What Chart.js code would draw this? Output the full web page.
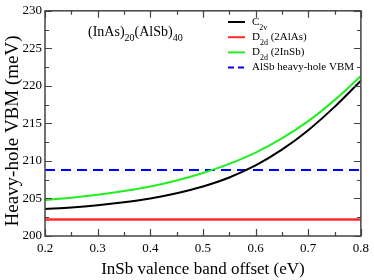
<!DOCTYPE html>
<html>
<head>
<meta charset="utf-8">
<script src="https://cdn.jsdelivr.net/npm/chart.js@4/dist/chart.umd.min.js"></script>
<style>
  html, body { margin: 0; padding: 0; background: #fff; }
  #wrap { width: 374px; height: 280px; }
</style>
</head>
<body>
<div id="wrap"><canvas id="c" width="374" height="280"></canvas></div>
<script>
// band offsets (eV)
const offsets = [0.2, 0.25, 0.3, 0.35, 0.4, 0.45, 0.5, 0.55, 0.6, 0.65, 0.7, 0.75, 0.8];
// heavy-hole VBM (meV)
const c2v      = [203.6, 203.8, 204.1, 204.5, 205.0, 205.7, 206.6, 207.8, 209.4, 211.5, 214.1, 217.2, 220.7];
const d2dAlAs  = [202.2, 202.2, 202.2, 202.2, 202.2, 202.2, 202.2, 202.2, 202.2, 202.2, 202.2, 202.2, 202.2];
const d2dInSb  = [204.8, 205.1, 205.5, 206.0, 206.6, 207.4, 208.4, 209.6, 211.1, 213.0, 215.3, 218.1, 221.3];
const alsbVbm  = [208.8, 208.8, 208.8, 208.8, 208.8, 208.8, 208.8, 208.8, 208.8, 208.8, 208.8, 208.8, 208.8];

const legendItems = [
  { base: 'C', sub: '2v', rest: '', color: '#000000', dash: [] },
  { base: 'D', sub: '2d', rest: ' (2AlAs)', color: '#ff2a2a', dash: [] },
  { base: 'D', sub: '2d', rest: ' (2InSb)', color: '#22ee22', dash: [] },
  { base: 'AlSb heavy-hole VBM', sub: '', rest: '', color: '#0000ff', dash: [6, 4] }
];

const serif = '"Liberation Serif", "DejaVu Serif", serif';
const pts = arr => offsets.map((x, i) => ({ x: x, y: arr[i] }));

// draw a string with an optional subscript part
function subText(ctx, x, y, base, sub, rest, size) {
  ctx.font = size + 'px ' + serif;
  ctx.fillText(base, x, y);
  x += ctx.measureText(base).width;
  if (sub) {
    ctx.font = Math.round(size * 0.7) + 'px ' + serif;
    ctx.fillText(sub, x, y + size * 0.5);
    x += ctx.measureText(sub).width;
  }
  if (rest) {
    ctx.font = size + 'px ' + serif;
    ctx.fillText(rest, x, y);
  }
}

// inward ticks on all four sides, plus legend and labels
const framePlugin = {
  id: 'frame',
  afterDraw(chart) {
    const ctx = chart.ctx;
    const a = chart.chartArea;
    const xs = chart.scales.x, ys = chart.scales.y;
    ctx.save();
    ctx.strokeStyle = '#444';
    ctx.lineWidth = 1.2;
    ctx.beginPath();
    for (let v = 0.2; v <= 0.8001; v += 0.05) {
      const px = Math.round(xs.getPixelForValue(v)) + 0.5;
      const major = Math.abs(v * 10 - Math.round(v * 10)) < 1e-6;
      const len = major ? 7 : 4;
      ctx.moveTo(px, a.bottom); ctx.lineTo(px, a.bottom - len);
      ctx.moveTo(px, a.top); ctx.lineTo(px, a.top + len);
    }
    for (let v = 200; v <= 230.001; v += 2.5) {
      const py = Math.round(ys.getPixelForValue(v)) + 0.5;
      const major = v % 5 === 0;
      const len = major ? 7 : 4;
      ctx.moveTo(a.left, py); ctx.lineTo(a.left + len, py);
      ctx.moveTo(a.right, py); ctx.lineTo(a.right - len, py);
    }
    ctx.stroke();

    ctx.lineWidth = 1.5;
    ctx.strokeRect(a.left, a.top, a.right - a.left, a.bottom - a.top);

    // legend
    ctx.fillStyle = '#000';
    ctx.textBaseline = 'middle';
    legendItems.forEach((it, i) => {
      const y = 22 + i * 15.2;
      ctx.strokeStyle = it.color;
      ctx.lineWidth = 2;
      ctx.setLineDash(it.dash);
      ctx.beginPath();
      ctx.moveTo(228, y); ctx.lineTo(245, y);
      ctx.stroke();
      ctx.setLineDash([]);
      subText(ctx, 252, y, it.base, it.sub, it.rest, 11);
    });

    // structure label
    let x = 88;
    const y0 = 32;
    [['(InAs)', '20'], ['(AlSb)', '40']].forEach(p => {
      ctx.font = '14px ' + serif;
      ctx.fillText(p[0], x, y0);
      x += ctx.measureText(p[0]).width;
      ctx.font = '10px ' + serif;
      ctx.fillText(p[1], x, y0 + 6);
      x += ctx.measureText(p[1]).width;
    });

    // y axis title
    ctx.translate(13, 131);
    ctx.rotate(-Math.PI / 2);
    ctx.textAlign = 'center';
    ctx.font = '19px ' + serif;
    ctx.fillText('Heavy-hole VBM (meV)', 0, 0);
    ctx.restore();
  }
};

const ctx = document.getElementById('c').getContext('2d');
new Chart(ctx, {
  type: 'line',
  data: {
    datasets: [
      { label: 'C2v', data: pts(c2v), borderColor: '#000000', borderWidth: 2 },
      { label: 'D2d (2AlAs)', data: pts(d2dAlAs), borderColor: '#ff2a2a', borderWidth: 2.5 },
      { label: 'D2d (2InSb)', data: pts(d2dInSb), borderColor: '#22ee22', borderWidth: 2 },
      { label: 'AlSb heavy-hole VBM', data: pts(alsbVbm), borderColor: '#0000ff', borderWidth: 2, borderDash: [10, 6] }
    ]
  },
  plugins: [framePlugin],
  options: {
    responsive: false,
    animation: false,
    layout: { padding: { top: 5, right: 8, left: 0, bottom: 0 } },
    elements: {
      point: { radius: 0 },
      line: { cubicInterpolationMode: 'monotone', fill: false }
    },
    plugins: {
      legend: { display: false },
      tooltip: { enabled: false }
    },
    scales: {
      x: {
        type: 'linear',
        min: 0.2, max: 0.8,
        afterFit: s => { s.height = 44; },
        grid: { display: false, drawTicks: false },
        border: { display: false },
        ticks: {
          stepSize: 0.1, padding: 5, color: '#000',
          font: { family: serif, size: 13 },
          callback: v => v.toFixed(1)
        },
        title: {
          display: true, text: 'InSb valence band offset (eV)', color: '#000',
          font: { family: serif, size: 17 }, padding: { top: 4, bottom: 0 }
        }
      },
      y: {
        min: 200, max: 230,
        afterFit: s => { s.width = 45; },
        grid: { display: false, drawTicks: false },
        border: { display: false },
        ticks: {
          stepSize: 5, padding: 3, color: '#000',
          font: { family: serif, size: 13 }
        },
        title: { display: false }
      }
    }
  }
});
</script>
</body>
</html>
